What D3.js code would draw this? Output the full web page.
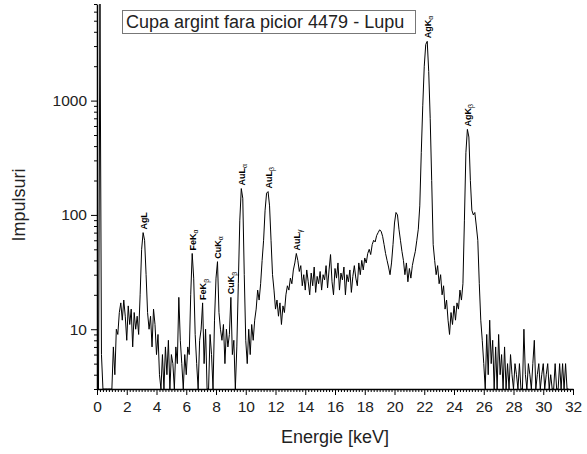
<!DOCTYPE html>
<html>
<head>
<meta charset="utf-8">
<script src="https://cdn.jsdelivr.net/npm/d3@7"></script>
<style>
  body { margin: 0; background: #fff; }
  svg { display: block; font-family: "Liberation Sans", Arial, sans-serif; }
  .axis text { font-size: 15.5px; fill: #222; }
  .axis path, .axis line { stroke: #000; }
  .peak-label { font-size: 9px; font-weight: bold; fill: #000; }
</style>
</head>
<body>
<svg width="587" height="454"></svg>
<script>
// spectrum channels, one value every 0.1 keV starting at 0 keV (one row per keV)
const keVStep = 0.1;
const counts = [
  0, 0, 9000, 6, 0, 0, 0, 0, 0, 0,
  0, 7, 4, 10, 9, 14, 17, 12, 18, 13,
  8, 16, 11, 15, 7, 14, 10, 13, 9, 20,
  50, 70, 60, 30, 14, 10, 13, 7, 15, 11,
  6, 9, 4, 0, 6, 3, 7, 4, 8, 0,
  6, 5, 3, 7, 5, 19, 8, 5, 0, 6,
  4, 7, 6, 20, 46, 28, 9, 5, 0, 8,
  10, 17, 5, 10, 3, 0, 9, 6, 0, 12,
  28, 39, 14, 10, 8, 11, 5, 10, 7, 9,
  19, 6, 8, 0, 7, 25, 90, 170, 140, 30,
  8, 5, 10, 6, 11, 8, 12, 15, 22, 18,
  25, 40, 60, 110, 155, 160, 120, 60, 30, 22,
  15, 18, 13, 17, 11, 16, 14, 20, 24, 22,
  28, 25, 33, 38, 46, 40, 32, 36, 24, 30,
  22, 33, 26, 20, 31, 24, 35, 21, 29, 25,
  32, 22, 30, 27, 36, 23, 33, 45, 26, 20,
  34, 28, 38, 22, 31, 27, 35, 20, 30, 26,
  33, 21, 29, 36, 28, 24, 38, 30, 40, 33,
  42, 38, 46, 50, 45, 55, 60, 58, 66, 70,
  74, 72, 65, 55, 46, 40, 35, 30, 38, 55,
  85, 105, 100, 75, 60, 48, 40, 30, 38, 26,
  34, 28, 36, 42, 48, 60, 75, 120, 350, 900,
  2000, 3100, 3300, 1800, 700, 200, 55, 40, 30, 36,
  25, 30, 20, 24, 15, 18, 12, 9, 14, 11,
  16, 12, 17, 15, 22, 18, 25, 90, 350, 560,
  480, 200, 110, 100, 105, 80, 60, 25, 12, 8,
  5, 0, 9, 4, 12, 5, 8, 3, 7, 0,
  9, 4, 6, 0, 7, 3, 5, 0, 6, 4,
  0, 5, 4, 0, 5, 3, 0, 10, 4, 0,
  5, 4, 0, 5, 8, 0, 4, 5, 0, 4,
  5, 0, 4, 5, 0, 4, 0, 0, 5, 0,
  0, 5, 0, 5, 0, 5, 0, 0
];

// peak annotations
const peakNames = ["AgL", "FeK", "FeK", "CuK", "CuK", "AuL", "AuL", "AuL", "AgK", "AgK"];
const peakSubs  = ["",    "α",   "β",   "α",   "β",   "α",   "β",   "γ",   "α",   "β"];
const peakKeV   = [3.1, 6.4, 7.1, 8.1, 9.0, 9.7, 11.5, 13.4, 22.2, 24.9];

// axis ticks
const xTicks = [0, 2, 4, 6, 8, 10, 12, 14, 16, 18, 20, 22, 24, 26, 28, 30, 32];
const yTicks = [10, 100, 1000];

const title = "Cupa argint fara picior 4479 - Lupu";

const svg = d3.select("svg");
const plotLeft = 97, plotRight = 573, plotTop = 4, plotBottom = 389;

let x = d3.scaleLinear().domain([0, 32]).range([plotLeft, plotRight]);
let y = d3.scaleLog().domain([3, 7000]).range([plotBottom, plotTop]).clamp(true);

const data = counts.map((c, i) => ({ e: i * keVStep, c: c }));

// minor tick positions
const xMinor = d3.range(0, 32.001, 0.2).filter(v => Math.abs(v / 2 - Math.round(v / 2)) > 1e-6);
let yMinor = [];
[1, 10, 100, 1000].forEach(d => {
    for (let k = 2; k <= 9; k++) {
        const v = d * k;
        if (v >= 3 && v <= 7000 && v !== 10 && v !== 100 && v !== 1000) yMinor.push(v);
    }
});

svg.append("clipPath").attr("id", "plot")
    .append("rect")
    .attr("x", plotLeft).attr("y", plotTop)
    .attr("width", plotRight - plotLeft).attr("height", plotBottom - plotTop);

// spectrum
const line = d3.line()
    .x(d => x(d.e))
    .y(d => y(Math.max(d.c, 1)));

svg.append("path")
    .datum(data)
    .attr("clip-path", "url(#plot)")
    .attr("fill", "none")
    .attr("stroke", "#000")
    .attr("stroke-width", 1)
    .attr("stroke-linejoin", "round")
    .attr("d", line);

// axes
svg.append("g")
    .attr("class", "axis")
    .attr("transform", "translate(0," + plotBottom + ")")
    .call(d3.axisBottom(x).tickValues(xMinor).tickSize(3).tickFormat(""))
    .call(g => g.select(".domain").remove());

svg.append("g")
    .attr("class", "axis")
    .attr("transform", "translate(0," + plotBottom + ")")
    .call(d3.axisBottom(x).tickValues(xTicks).tickSize(6).tickSizeOuter(0).tickPadding(6).tickFormat(d3.format("d")))
    .call(g => g.select(".domain").attr("stroke-width", 1.5));

svg.append("g")
    .attr("class", "axis")
    .attr("transform", "translate(" + plotLeft + ",0)")
    .call(d3.axisLeft(y).tickValues(yMinor).tickSize(3).tickFormat(""))
    .call(g => g.select(".domain").remove());

svg.append("g")
    .attr("class", "axis")
    .attr("transform", "translate(" + plotLeft + ",0)")
    .call(d3.axisLeft(y).tickValues(yTicks).tickSize(6).tickSizeOuter(0).tickPadding(4).tickFormat(d3.format("d")))
    .call(g => g.select(".domain").attr("stroke-width", 1.5));

// axis titles
svg.append("text")
    .attr("x", 335)
    .attr("y", 443)
    .attr("text-anchor", "middle")
    .style("font-size", "18px")
    .style("fill", "#222")
    .text("Energie [keV]");

svg.append("text")
    .attr("transform", "translate(25,205) rotate(-90)")
    .attr("text-anchor", "middle")
    .style("font-size", "18px")
    .style("fill", "#222")
    .text("Impulsuri");

// title box
const tg = svg.append("g");
tg.append("rect")
    .attr("x", 122.5).attr("y", 10.5)
    .attr("width", 293).attr("height", 23)
    .attr("fill", "#fff")
    .attr("stroke", "#777")
    .attr("stroke-width", 1);
tg.append("text")
    .attr("x", 126)
    .attr("y", 28)
    .style("font-size", "18px")
    .style("fill", "#222")
    .text(title);

// peak labels, rotated, starting just above each peak
peakNames.forEach((name, i) => {
    const idx = Math.round(peakKeV[i] / keVStep);
    const px = x(peakKeV[i]) + 3.5;
    const py = y(counts[idx]) - 3;
    const t = svg.append("text")
        .attr("class", "peak-label")
        .attr("transform", "translate(" + px + "," + py + ") rotate(-90)")
        .text(name);
    if (peakSubs[i]) {
        t.append("tspan")
            .attr("dy", 2.5)
            .style("font-size", "7px")
            .style("font-weight", "normal")
            .text(peakSubs[i]);
    }
});
</script>
</body>
</html>
